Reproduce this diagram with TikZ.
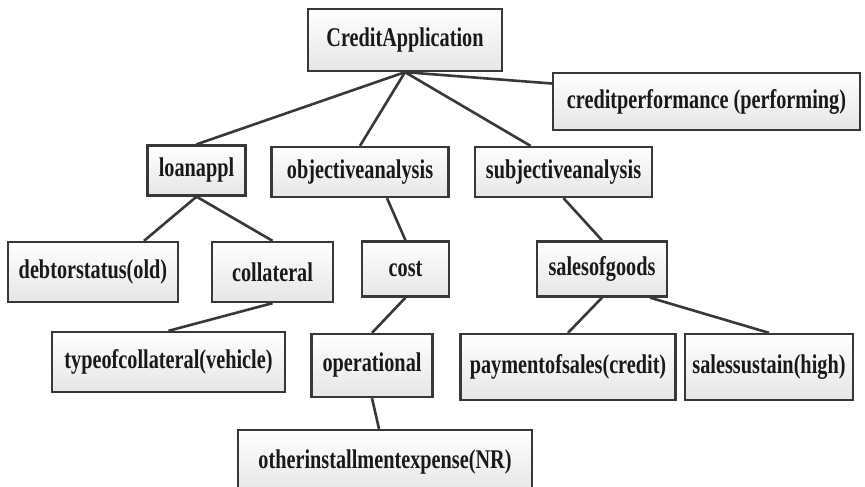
\documentclass[tikz,border=0pt]{standalone}
\usepackage{fontspec}
\setmainfont[FakeStretch=0.75]{Liberation Serif}
\usetikzlibrary{calc,shadings}
\begin{document}
\begin{tikzpicture}[x=1pt,y=-1pt,
  box/.style={draw=black!78, line width=2.3pt, top color=white, bottom color=black!10,
    inner sep=0pt, font=\fontsize{27}{30}\selectfont\bfseries, text=black!90},
  link/.style={draw=black!78, line width=2.6pt}]
\useasboundingbox (0,0) rectangle (865,487);
\fill[white] (0,0) rectangle (865,487);

% top level
\node[box, minimum width=194pt, minimum height=62pt] (ca) at (405,40) {CreditApplication};
\node[box, minimum width=307pt, minimum height=57pt] (cp) at (706.5,101.5) {creditperformance (performing)};

% second level
\node[box, minimum width=98pt,  minimum height=50pt] (la) at (196.5,170.5) {loanappl};
\node[box, minimum width=177pt, minimum height=50pt] (oa) at (360,172) {objectiveanalysis};
\node[box, minimum width=177pt, minimum height=50pt] (sa) at (563.5,172) {subjectiveanalysis};

% third level
\node[box, minimum width=170pt, minimum height=60pt] (ds) at (93,272) {debtorstatus(old)};
\node[box, minimum width=121pt, minimum height=60pt] (co) at (272.5,272) {collateral};
\node[box, minimum width=87pt,  minimum height=55pt] (cs) at (405.5,269) {cost};
\node[box, minimum width=130pt, minimum height=55pt] (sg) at (602,269) {salesofgoods};

% fourth level
\node[box, minimum width=233pt, minimum height=60pt] (tc) at (168.5,362) {typeofcollateral(vehicle)};
\node[box, minimum width=121pt, minimum height=63pt] (op) at (372,365.5) {operational};
\node[box, minimum width=215pt, minimum height=66pt] (ps) at (568,367) {paymentofsales(credit)};
\node[box, minimum width=168pt, minimum height=66pt] (ss) at (769,367) {salessustain(high)};

% fifth level
\node[box, minimum width=294pt, minimum height=64pt] (oe) at (385,462) {otherinstallmentexpense(NR)};

% connectors
\draw[link] (ca.south) -- (la.north);
\draw[link] (ca.south) -- (oa.north);
\draw[link] (ca.south) -- ($(sa.north)+(-33,0)$);
\draw[link] (ca.south) -- ($(cp.west)+(0,-18)$);
\draw[link] (la.south) -- ($(ds.north)+(51,0)$);
\draw[link] (la.south) -- (co.north);
\draw[link] (co.south) -- (tc.north);
\draw[link] ($(oa.south)+(27,0)$) -- (cs.north);
\draw[link] (cs.south) -- (op.north);
\draw[link] (op.south) -- ($(oe.north)+(-6,0)$);
\draw[link] (sa.south) -- (sg.north);
\draw[link] (sg.south) -- (ps.north);
\draw[link] ($(sg.south)+(48,0)$) -- (ss.north);
\end{tikzpicture}
\end{document}
